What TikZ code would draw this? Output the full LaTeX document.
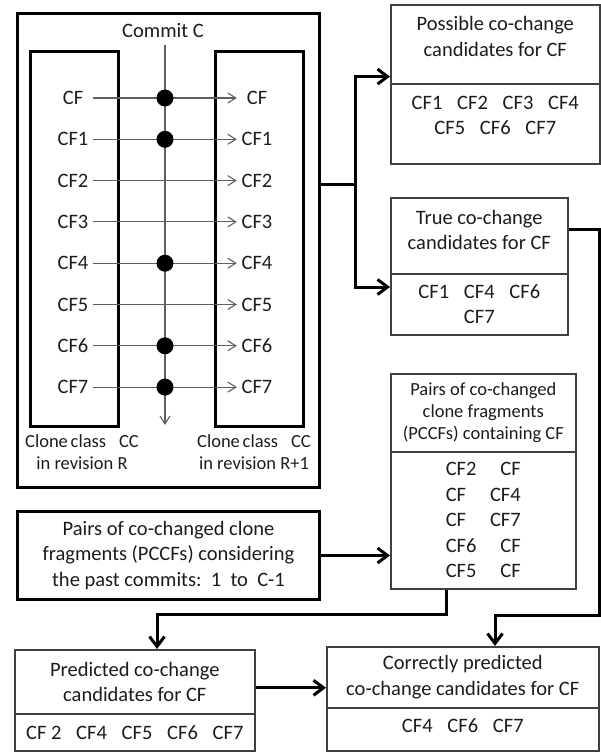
\documentclass[tikz,border=0pt]{standalone}
\usepackage{fontspec}
\setmainfont{Carlito}
\usepackage{tikz}
\usetikzlibrary{arrows.meta}
\definecolor{ink}{RGB}{30,28,26}
\definecolor{wire}{RGB}{95,95,95}
\newcommand{\cfgap}{\hspace{0.72em}}

\begin{document}
\begin{tikzpicture}[x=1pt, y=-1pt,
  font=\fontsize{20.5}{25.5}\selectfont, text=ink,
  every node/.style={align=center, inner sep=0pt},
  heavy/.style={draw=black, line width=3pt, rectangle, anchor=north west},
  light/.style={draw=black!75, line width=1.6pt, rectangle, anchor=north west},
  small/.style={font=\fontsize{18.5}{22}\selectfont},
  frag/.style={minimum width=40pt},
  hit/.style={circle, fill=black, minimum size=17pt},
  flow/.style={line width=1.1pt, draw=wire, -{Straight Barb[length=8pt,width=10pt]}},
  link/.style={line width=3pt, -{Straight Barb[length=10pt,width=15pt]}},
]
\useasboundingbox (0,0) rectangle (600,752);

% コミット C
\node[heavy, minimum width=302pt, minimum height=474pt] (commitBox) at (16,12) {};
\node[heavy, minimum width=88pt, minimum height=375pt] (revR) at (29,50) {};
\node[heavy, minimum width=88pt, minimum height=375pt] (revR1) at (214,50) {};
\node[anchor=south] (commit) at (163,38) {Commit C};
\coordinate (commitEnd) at (165,425);
\draw[flow] (commit.south -| commitEnd) ++(0,7) -- (commitEnd);

\foreach \lab [count=\i from 0] in {CF,CF1,CF2,CF3,CF4,CF5,CF6,CF7} {
  \node[frag] (l\i) at (73,{98+41.3*\i}) {\lab};
  \node[frag] (r\i) at (257,{98+41.3*\i}) {\lab};
  \draw[flow] (l\i.east) -- (r\i.west);
}
\foreach \i in {0,1,4,6,7}
  \node[hit] (hit\i) at (165,{98+41.3*\i}) {};

\node[small] (capR) at (82,452.5) {Clone\hspace{0.15em}class\hspace{0.7em}CC\\in revision R};
\node[small] (capR1) at (254,452.5) {Clone\hspace{0.15em}class\hspace{0.7em}CC\\in revision R+1};

% 候補
\node[light, minimum width=209pt, minimum height=79pt] (possHead) at (390,4) {};
\node[yshift=8pt] (possHeadTxt) at (possHead.center) {Possible co-change\\candidates for CF};
\node[light, minimum width=209pt, minimum height=80pt] (possBody) at (390,83) {};
\node[yshift=8.5pt] (possBodyTxt) at (possBody.center) {CF1\cfgap CF2\cfgap CF3\cfgap CF4\\CF5\cfgap CF6\cfgap CF7};

\node[light, minimum width=177pt, minimum height=76pt] (trueHead) at (390,197) {};
\node[yshift=6pt] (trueHeadTxt) at (trueHead.center) {True co-change\\candidates for CF};
\node[light, minimum width=177pt, minimum height=61pt] (trueBody) at (390,273) {CF1\cfgap CF4\cfgap CF6\\CF7};

\node[light, small, minimum width=185pt, minimum height=78pt] (pairsHead) at (390,373) {Pairs of co-changed\\clone fragments\\(PCCFs) containing CF};
\node[light, minimum width=185pt, minimum height=137pt] (pairsBody) at (390,451)
  {CF2\hspace{1.17em}CF\\CF\hspace{1.17em}CF4\\CF\hspace{1.17em}CF7\\CF6\hspace{1.17em}CF\\CF5\hspace{1.17em}CF};

\node[heavy, minimum width=302pt, minimum height=88pt] (pccf) at (16,510)
  {Pairs of co-changed clone\\fragments (PCCFs) considering\\the past commits:\ \ 1\ \ to\ \ C-1};

% 予測
\node[light, minimum width=240pt, minimum height=64pt] (predHead) at (14,649) {Predicted co-change\\candidates for CF};
\node[light, minimum width=240pt, minimum height=37pt] (predBody) at (14,713) {CF 2\cfgap CF4\cfgap CF5\cfgap CF6\cfgap CF7};

\node[light, minimum width=272pt, minimum height=61pt] (corrHead) at (326,646) {Correctly predicted\\co-change candidates for CF};
\node[light, minimum width=272pt, minimum height=43pt] (corrBody) at (326,707) {};
\node[yshift=3.5pt] (corrBodyTxt) at (corrBody.center) {CF4\cfgap CF6\cfgap CF7};

% 矢印
\coordinate (split) at (355,184);
\draw[line width=3pt] (split -| commitBox.east) -- (split);
\draw[link] (split) |- ([yshift=8pt]possHead.south west);
\draw[link] (split) |- ([yshift=-14pt]trueBody.north west);

\coordinate (bendR) at (495,615);
\draw[link] ([yshift=6pt]trueHead.east) -- ++(31,0) |- (bendR) -- (bendR |- corrHead.north);

\draw[link] (pccf.east) -- (pccf.east -| pairsBody.west);

\coordinate (bendL) at (157,614);
\draw[link] ([xshift=-36.5pt]pairsBody.south) |- (bendL) -- (bendL |- predHead.north);

\draw[link] ([yshift=-6pt]predHead.east) -- ([yshift=-6pt]predHead.east -| corrHead.west);
\end{tikzpicture}
\end{document}
